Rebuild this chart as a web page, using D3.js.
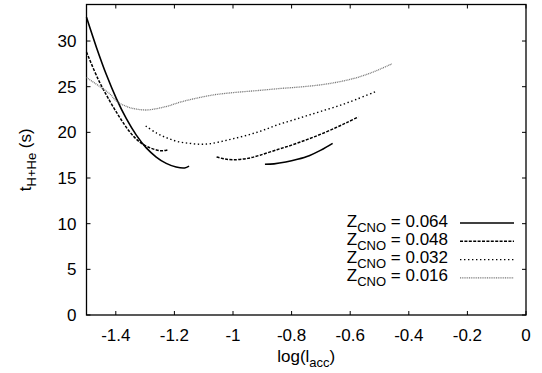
<!DOCTYPE html>
<html>
<head>
<meta charset="utf-8">
<script src="https://cdn.jsdelivr.net/npm/d3@7"></script>
<style>
  body { margin: 0; background: #fff; }
  text { font-family: "Liberation Sans", Arial, sans-serif; }
</style>
</head>
<body>
<svg id="chart"></svg>
<script>
// Z_CNO = 0.064 (two pieces)
const z064a = [[-1.5, 32.6], [-1.466, 29.3], [-1.432, 26.3], [-1.398, 23.7], [-1.364, 21.5], [-1.33, 19.7],
  [-1.296, 18.3], [-1.262, 17.3], [-1.228, 16.6], [-1.194, 16.2], [-1.165, 16.1], [-1.15, 16.3]];
const z064b = [[-0.891, 16.5], [-0.86, 16.55], [-0.82, 16.75], [-0.78, 17.05], [-0.74, 17.45], [-0.70, 18.05], [-0.66, 18.8]];

// Z_CNO = 0.048 (two pieces)
const z048a = [[-1.5, 28.8], [-1.46, 25.8], [-1.42, 23.4], [-1.386, 21.6], [-1.351, 20.0], [-1.317, 18.9],
  [-1.283, 18.3], [-1.25, 18.0], [-1.235, 18.0], [-1.221, 18.1]];
const z048b = [[-1.056, 17.3], [-1.03, 17.1], [-1.0, 17.0], [-0.95, 17.15], [-0.908, 17.5], [-0.85, 18.1],
  [-0.80, 18.6], [-0.748, 19.2], [-0.70, 19.8], [-0.65, 20.5], [-0.61, 21.1], [-0.572, 21.7]];

// Z_CNO = 0.032
const z032 = [[-1.298, 20.7], [-1.26, 19.9], [-1.226, 19.4], [-1.19, 19.0], [-1.15, 18.8], [-1.113, 18.7],
  [-1.08, 18.75], [-1.04, 19.0], [-1.0, 19.3], [-0.95, 19.7], [-0.90, 20.2], [-0.85, 20.8], [-0.80, 21.3],
  [-0.75, 21.8], [-0.70, 22.3], [-0.64, 22.9], [-0.58, 23.6], [-0.51, 24.5]];

// Z_CNO = 0.016
const z016 = [[-1.5, 26.0], [-1.454, 25.0], [-1.42, 24.2], [-1.397, 23.4], [-1.36, 22.8], [-1.33, 22.55],
  [-1.295, 22.45], [-1.26, 22.6], [-1.22, 22.9], [-1.181, 23.3], [-1.13, 23.7], [-1.067, 24.1], [-1.0, 24.35],
  [-0.908, 24.6], [-0.84, 24.8], [-0.76, 25.0], [-0.68, 25.3], [-0.60, 25.8], [-0.53, 26.5], [-0.458, 27.5]];

const labels = ["0.064", "0.048", "0.032", "0.016"];
const xTicks = [-1.4, -1.2, -1, -0.8, -0.6, -0.4, -0.2, 0];
const yTicks = [0, 5, 10, 15, 20, 25, 30];

const series = [
  { label: labels[0], pieces: [z064a, z064b], color: "#000", width: 1.6, dash: null },
  { label: labels[1], pieces: [z048a, z048b], color: "#000", width: 1.5, dash: "3,1.4" },
  { label: labels[2], pieces: [z032], color: "#000", width: 1.4, dash: "1.4,2.6" },
  { label: labels[3], pieces: [z016], color: "#777", width: 1.3, dash: "1,0.8" }
];

const W = 542, H = 373;
const margin = { top: 4.5, right: 16, bottom: 58, left: 86.5 };
const width = W - margin.left - margin.right;
const height = H - margin.top - margin.bottom;

const svg = d3.select("#chart").attr("width", W).attr("height", H);
const chart = svg.append("g").attr("transform", `translate(${margin.left},${margin.top})`);

const x = d3.scaleLinear().domain([-1.5, 0]).range([0, width]);
const y = d3.scaleLinear().domain([0, 34]).range([height, 0]);

// Ticks (inward, mirrored on top and right)
chart.selectAll(".xt").data(xTicks).join("g").attr("class", "xt")
  .each(function(d) {
    const g = d3.select(this);
    g.append("line").attr("x1", x(d)).attr("x2", x(d)).attr("y1", height).attr("y2", height - 4).attr("stroke", "#000");
    g.append("line").attr("x1", x(d)).attr("x2", x(d)).attr("y1", 0).attr("y2", 4).attr("stroke", "#000");
    g.append("text").attr("x", x(d)).attr("y", height + 25.5).attr("text-anchor", "middle")
      .attr("font-size", 17).text(String(d));
  });

chart.selectAll(".yt").data(yTicks).join("g").attr("class", "yt")
  .each(function(d) {
    const g = d3.select(this);
    g.append("line").attr("x1", 0).attr("x2", 4).attr("y1", y(d)).attr("y2", y(d)).attr("stroke", "#000");
    g.append("line").attr("x1", width).attr("x2", width - 4).attr("y1", y(d)).attr("y2", y(d)).attr("stroke", "#000");
    g.append("text").attr("x", -10).attr("y", y(d) + 6).attr("text-anchor", "end")
      .attr("font-size", 17).text(d);
  });

// Frame
chart.append("rect").attr("x", 0).attr("y", 0).attr("width", width).attr("height", height)
  .attr("fill", "none").attr("stroke", "#000").attr("stroke-width", 1.3);

// Curves
const line = d3.line().x(d => x(d[0])).y(d => y(d[1])).curve(d3.curveCatmullRom.alpha(0.5));
series.forEach(s => {
  s.pieces.forEach(p => {
    chart.append("path").datum(p).attr("d", line)
      .attr("fill", "none").attr("stroke", s.color).attr("stroke-width", s.width)
      .attr("stroke-dasharray", s.dash);
  });
});

// Legend
const legend = svg.append("g");
series.forEach((s, i) => {
  const by = 226.5 + i * 18.3;
  const t = legend.append("text").attr("x", 448).attr("y", by).attr("text-anchor", "end").attr("font-size", 17);
  t.append("tspan").text("Z");
  t.append("tspan").attr("font-size", 13).attr("dy", 5).text("CNO");
  t.append("tspan").attr("dy", -5).text(" = " + s.label);
  legend.append("line").attr("x1", 460).attr("x2", 514).attr("y1", by - 3.5).attr("y2", by - 3.5)
    .attr("stroke", s.color).attr("stroke-width", s.width).attr("stroke-dasharray", s.dash);
});

// Axis labels
const xl = svg.append("text").attr("x", margin.left + width / 2).attr("y", 361.5)
  .attr("text-anchor", "middle").attr("font-size", 17);
xl.append("tspan").text("log(l");
xl.append("tspan").attr("font-size", 13).attr("dy", 5).text("acc");
xl.append("tspan").attr("dy", -5).text(")");

const yl = svg.append("text").attr("transform", `translate(31,${margin.top + height / 2}) rotate(-90)`)
  .attr("text-anchor", "middle").attr("font-size", 17);
yl.append("tspan").text("t");
yl.append("tspan").attr("font-size", 13).attr("dy", 5).text("H+He");
yl.append("tspan").attr("dy", -5).text(" (s)");
</script>
</body>
</html>
